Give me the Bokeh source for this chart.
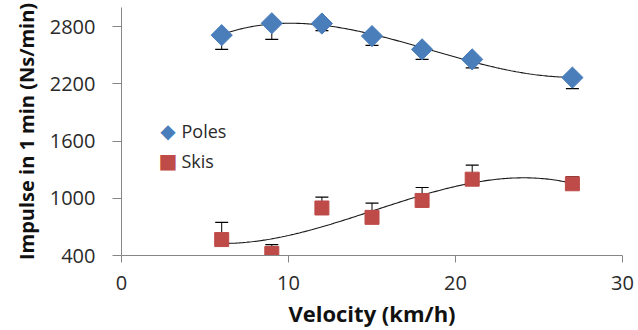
import numpy as np
from bokeh.plotting import figure
from bokeh.models import (ColumnDataSource, Whisker, TeeHead, FixedTicker, Label, Range1d)
from bokeh.embed import file_html
from bokeh.resources import INLINE

velocity = [6, 9, 12, 15, 18, 21, 27]
poles = [2710, 2835, 2832, 2700, 2561, 2456, 2265]
poles_err = [150, 170, 75, 98, 105, 90, 115]
skis = [567, 421, 898, 800, 977, 1200, 1152]
skis_err = [181, 94, 115, 150, 136, 147, 76]
x_ticks = [0, 10, 20, 30]
y_ticks = [400, 1000, 1600, 2200, 2800]
series_names = ["Poles", "Skis"]

FONT = "Open Sans"
AXIS_COL = "#868686"
POLE_COL = "#4A7EBB"
SKI_COL = "#BE4B48"

p = figure(width=638, height=330, output_backend="svg", toolbar_location=None,
           x_range=Range1d(0, 30), y_range=Range1d(400, 3000),
           min_border_left=121, min_border_right=16, min_border_top=7, min_border_bottom=74)
p.outline_line_color = None
p.xgrid.visible = False
p.ygrid.visible = False
p.background_fill_color = "white"
p.border_fill_color = "white"

# trend lines (3rd order polynomial fits, as Excel)
xs = np.linspace(min(velocity), max(velocity), 200)
cp = np.polyfit(velocity, poles, 3)
cs = np.polyfit(velocity, skis, 3)
p.line(xs, np.polyval(cp, xs), line_color="#1a1a1a", line_width=1.1)
p.line(xs, np.polyval(cs, xs), line_color="#1a1a1a", line_width=1.1)

src = ColumnDataSource(dict(
    x=velocity, poles=poles, skis=skis,
    poles_lo=[v - e for v, e in zip(poles, poles_err)],
    skis_hi=[v + e for v, e in zip(skis, skis_err)],
))

wp = Whisker(source=src, base="x", upper="poles", lower="poles_lo", dimension="height",
             line_color="black", line_width=1,
             upper_head=None, lower_head=TeeHead(size=13, line_color="black", line_width=1.2))
ws = Whisker(source=src, base="x", upper="skis_hi", lower="skis", dimension="height",
             line_color="black", line_width=1,
             lower_head=None, upper_head=TeeHead(size=13, line_color="black", line_width=1.2))
p.add_layout(wp)
p.add_layout(ws)

p.scatter("x", "poles", source=src, marker="square", angle=np.pi / 4, size=15,
          fill_color=POLE_COL, line_color=POLE_COL)
p.scatter("x", "skis", source=src, marker="square", size=14,
          fill_color=SKI_COL, line_color=SKI_COL)

# legend (screen units relative to the plot frame)
legend_specs = [("\u25C6", POLE_COL, series_names[0], 125), ("\u25A0", SKI_COL, series_names[1], 95)]
for sym, col, name, yy in legend_specs:
    p.add_layout(Label(x=46.5, y=yy, x_units="screen", y_units="screen", text=sym,
                       text_color=col, text_font="DejaVu Sans", text_font_size="20px",
                       text_align="center", text_baseline="middle"))
    p.add_layout(Label(x=60, y=yy, x_units="screen", y_units="screen", text=name,
                       text_color="#2a2a2a", text_font=FONT, text_font_size="18px",
                       text_align="left", text_baseline="middle"))

for ax in (p.xaxis[0], p.yaxis[0]):
    ax.axis_line_color = AXIS_COL
    ax.major_tick_line_color = AXIS_COL
    ax.minor_tick_line_color = None
    ax.major_tick_in = 0
    ax.major_label_text_font = FONT
    ax.major_label_text_font_size = "20px"
    ax.major_label_text_color = "#2a2a2a"
    ax.axis_label_text_font = FONT
    ax.axis_label_text_font_style = "bold"
    ax.axis_label_text_color = "#111111"

p.xaxis.axis_label_text_font_size = "22px"
p.yaxis.axis_label_text_font_size = "20px"
p.xaxis.ticker = FixedTicker(ticks=x_ticks)
p.yaxis.ticker = FixedTicker(ticks=y_ticks)
p.xaxis.major_tick_out = 7
p.yaxis.major_tick_out = 9
p.xaxis.major_label_standoff = 13
p.yaxis.major_label_standoff = 17
p.xaxis.axis_label = "Velocity (km/h)"
p.yaxis.axis_label = "Impulse in 1 min (Ns/min)"
p.xaxis.axis_label_standoff = 5
p.yaxis.axis_label_standoff = 7

open("out.html", "w").write(file_html(p, INLINE))
